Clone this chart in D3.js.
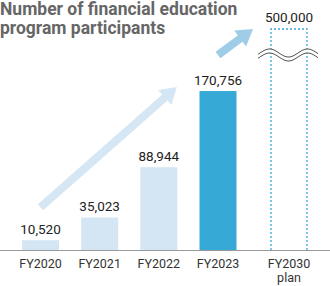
<!DOCTYPE html>
<html>
<head>
<meta charset="utf-8">
<script src="https://cdn.jsdelivr.net/npm/d3@7"></script>
<style>
  body { margin: 0; background: #fff; }
  svg { display: block; font-family: Roboto, "Noto Sans", sans-serif; }
</style>
</head>
<body>
<svg id="chart" width="330" height="286"></svg>
<script>
// data
var categories = ["FY2020", "FY2021", "FY2022", "FY2023"];
var values = [10520, 35023, 88944, 170756];
var planLabel = ["FY2030", "plan"];
var planValue = 500000;
var titleLines = ["Number of financial education", "program participants"];

var svg = d3.select("#chart");
var baseY = 250;

// slot 4.2 = plan bar, a little further out
var x = d3.scaleLinear().domain([0, 3]).range([40.5, 218]);
var planX = x(4.2);
var barW = 37;

// broken axis: upper part squeezed
var y = d3.scaleLinear().domain([0, 200000, 500000]).range([baseY, 63.8, 29]);

var fmt = d3.format(",");

// title
svg.append("g").selectAll("text")
    .data(titleLines)
    .enter()
    .append("text")
    .attr("x", 0)
    .attr("y", function (d, i) { return 14.5 + i * 19.5; })
    .attr("fill", "#666")
    .style("font-size", "17.5px")
    .style("font-weight", "bold")
    .text(function (d) { return d; });

// arrows
function arrow(tail, tip, color) {
    var dx = tip[0] - tail[0], dy = tip[1] - tail[1];
    var len = Math.sqrt(dx * dx + dy * dy);
    var ux = dx / len, uy = dy / len;
    var nx = -uy, ny = ux;
    var hl = 16, hw = 10;
    var bx = tip[0] - ux * hl, by = tip[1] - uy * hl;
    svg.append("line")
        .attr("x1", tail[0]).attr("y1", tail[1])
        .attr("x2", bx + ux * 2).attr("y2", by + uy * 2)
        .attr("stroke", color)
        .attr("stroke-width", 8);
    svg.append("path")
        .attr("d", "M" + tip[0] + "," + tip[1] +
            "L" + (bx + nx * hw) + "," + (by + ny * hw) +
            "L" + (bx - nx * hw) + "," + (by - ny * hw) + "Z")
        .attr("fill", color);
}
arrow([x(0), y(values[0]) - 33], [x(2) + 18, y(values[3]) - 4], "#d5e7f4");
arrow([x(3), y(values[3]) - 36], [x(3) + 35, y(planValue)], "#9fcde8");

// bars
svg.append("g").selectAll("rect")
    .data(values)
    .enter()
    .append("rect")
    .attr("x", function (d, i) { return x(i) - barW / 2; })
    .attr("y", function (d) { return y(d); })
    .attr("width", barW)
    .attr("height", function (d) { return baseY - y(d); })
    .attr("fill", function (d, i) { return i === 3 ? "#36a9d7" : "#d4e6f4"; });

// plan bar (dotted outline)
svg.append("path")
    .attr("d", "M" + (planX - barW / 2 + 0.5) + "," + baseY +
        "V" + y(planValue) + "H" + (planX + barW / 2 - 0.5) + "V" + baseY)
    .attr("fill", "none")
    .attr("stroke", "#36a9d7")
    .attr("stroke-width", 1.3)
    .attr("stroke-dasharray", "2,2");

// wave break
var waveY = 55;
var wx0 = planX - 31, wx1 = planX + 29;
var pts = d3.range(wx0, wx1 + 0.5, 1);
function wave(off) {
    return pts.map(function (px) {
        return [px, waveY + off - 4 * Math.sin((px - wx0 - 2) / 38 * 2 * Math.PI)];
    });
}
var waveTop = wave(-2), waveBot = wave(2);
svg.append("path")
    .attr("d", d3.line()(waveTop.concat(waveBot.slice().reverse())) + "Z")
    .attr("fill", "#fff");
[waveTop, waveBot].forEach(function (p) {
    svg.append("path")
        .attr("d", d3.line()(p))
        .attr("fill", "none")
        .attr("stroke", "#555")
        .attr("stroke-width", 1);
});

// baseline
svg.append("line")
    .attr("x1", 0).attr("x2", 330)
    .attr("y1", baseY + 0.5).attr("y2", baseY + 0.5)
    .attr("stroke", "#999");

// value labels
svg.append("g").selectAll("text")
    .data(values)
    .enter()
    .append("text")
    .attr("x", function (d, i) { return x(i); })
    .attr("y", function (d) { return y(d) - 6; })
    .attr("text-anchor", "middle")
    .attr("fill", "#222")
    .style("font-size", "13.5px")
    .text(function (d) { return fmt(d); });

svg.append("text")
    .attr("x", planX)
    .attr("y", y(planValue) - 7)
    .attr("text-anchor", "middle")
    .attr("fill", "#222")
    .style("font-size", "13.5px")
    .text(fmt(planValue));

// category labels
svg.append("g").selectAll("text")
    .data(categories)
    .enter()
    .append("text")
    .attr("x", function (d, i) { return x(i); })
    .attr("y", 268)
    .attr("text-anchor", "middle")
    .attr("fill", "#333")
    .style("font-size", "12.5px")
    .text(function (d) { return d; });

svg.append("g").selectAll("text")
    .data(planLabel)
    .enter()
    .append("text")
    .attr("x", planX)
    .attr("y", function (d, i) { return 268 + i * 14; })
    .attr("text-anchor", "middle")
    .attr("fill", "#333")
    .style("font-size", "12.5px")
    .text(function (d) { return d; });
</script>
</body>
</html>
